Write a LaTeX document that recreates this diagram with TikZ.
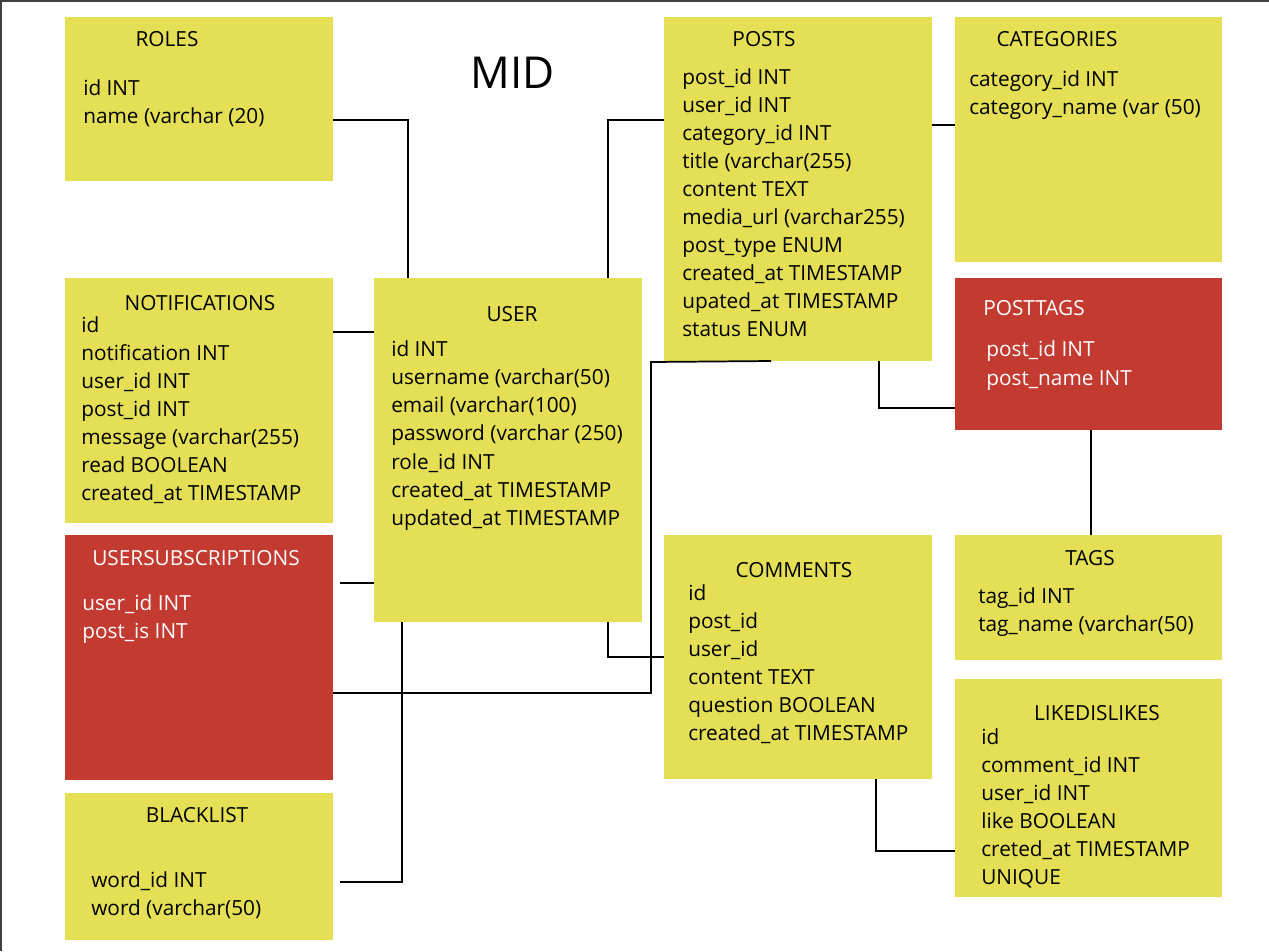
\documentclass[tikz,border=0pt]{standalone}
\usepackage{fontspec}
\setmainfont{Open Sans}
\definecolor{ybox}{HTML}{E4DF55}
\definecolor{rbox}{HTML}{C33A31}
\begin{document}
\begin{tikzpicture}[x=0.75pt,y=-0.75pt,
  tbl/.style={rectangle,inner sep=0pt,outer sep=0pt,anchor=north west,draw=none},
  yel/.style={tbl,fill=ybox},
  red/.style={tbl,fill=rbox},
  ttl/.style={inner sep=0pt,anchor=base,font=\fontsize{15.6}{18}\selectfont,yshift=-5.5pt},
  fld/.style={inner sep=0pt,anchor=base west,font=\fontsize{15.6}{18}\selectfont,yshift=-5.5pt},
  wt/.style={text=white},
  link/.style={draw=black,line width=1.3pt}]
\useasboundingbox (0,0) rectangle (1269,951);
\fill[white] (0,0) rectangle (1269,951);
\draw[line width=1.8pt,draw=black!75] (1,951) -- (1,1) -- (1269,1);
% boxes
\newcommand{\bx}[6]{\node[#6,minimum width={(#4-#2)*0.75pt},minimum height={(#5-#3)*0.75pt}] (#1) at (#2,#3) {};}
\bx{roles}{65}{17}{333}{181}{yel}
\bx{notif}{65}{278}{333}{523}{yel}
\bx{usub}{65}{535}{333}{780}{red}
\bx{black}{65}{793}{333}{940}{yel}
\bx{user}{374}{278}{642}{622}{yel}
\bx{posts}{664}{17}{932}{361}{yel}
\bx{cats}{955}{17}{1222}{262}{yel}
\bx{ptags}{955}{278}{1222}{430}{red}
\bx{tags}{955}{535}{1222}{660}{yel}
\bx{comm}{664}{535}{932}{779}{yel}
\bx{likes}{955}{679}{1222}{897}{yel}
% title
\node[inner sep=0pt,font=\fontsize{33}{38}\selectfont] (mid) at (513,73) {MID};
% ROLES
\node[ttl] (rolesT) at (167,39) {ROLES};
\node[fld] (r1) at (83,88) {id INT};
\node[fld] (r2) at (83,116) {name (varchar (20)};
% POSTS
\node[ttl] (postsT) at (764,39) {POSTS};
\foreach \t [count=\i from 0] in {post\_id INT,user\_id INT,category\_id INT,title (varchar(255),content TEXT,media\_url (varchar255),post\_type ENUM,created\_at TIMESTAMP,upated\_at TIMESTAMP,status ENUM}
  \node[fld] (p\i) at (682,77+28*\i) {\t};
% CATEGORIES
\node[ttl] (catsT) at (1057,39) {CATEGORIES};
\node[fld] (c1) at (969,79) {category\_id INT};
\node[fld] (c2) at (969,107) {category\_name (var (50)};
% NOTIFICATIONS
\node[ttl] (notifT) at (200,303) {NOTIFICATIONS};
\foreach \t [count=\i from 0] in {id,notification INT,user\_id INT,post\_id INT,message (varchar(255),read BOOLEAN,created\_at TIMESTAMP}
  \node[fld] (n\i) at (81,325+28*\i) {\t};
% USER
\node[ttl] (userT) at (512,314) {USER};
\foreach \t [count=\i from 0] in {id INT,username (varchar(50),email (varchar(100),password (varchar (250),role\_id INT,created\_at TIMESTAMP,updated\_at TIMESTAMP}
  \node[fld] (u\i) at (391,349+28.2*\i) {\t};
% POSTTAGS
\node[ttl,wt] (ptagsT) at (1034,308) {POSTTAGS};
\node[fld,wt] (pt1) at (986,349) {post\_id INT};
\node[fld,wt] (pt2) at (986,378) {post\_name INT};
% USERSUBSCRIPTIONS
\node[ttl,wt] (usubT) at (196,558) {USERSUBSCRIPTIONS};
\node[fld,wt] (us1) at (82,603) {user\_id INT};
\node[fld,wt] (us2) at (82,631) {post\_is INT};
% TAGS
\node[ttl] (tagsT) at (1090,558) {TAGS};
\node[fld] (t1) at (978,596) {tag\_id INT};
\node[fld] (t2) at (978,624) {tag\_name (varchar(50)};
% COMMENTS
\node[ttl] (commT) at (794,570) {COMMENTS};
\foreach \t [count=\i from 0] in {id,post\_id,user\_id,content TEXT,question BOOLEAN,created\_at TIMESTAMP}
  \node[fld] (cm\i) at (688,593+28*\i) {\t};
% LIKEDISLIKES
\node[ttl] (likesT) at (1097,713) {LIKEDISLIKES};
\foreach \t [count=\i from 0] in {id,comment\_id INT,user\_id INT,like BOOLEAN,creted\_at TIMESTAMP,UNIQUE}
  \node[fld] (l\i) at (981,737+28*\i) {\t};
% BLACKLIST
\node[ttl] (blackT) at (197,815) {BLACKLIST};
\node[fld] (b1) at (91,880) {word\_id INT};
\node[fld] (b2) at (91,908) {word (varchar(50)};
% connectors
\draw[link] (roles.east |- 0,120) -| (user.north -| 408,0);
\draw[link] (notif.east |- 0,332) -- (user.west |- 0,332);
\draw[link] (user.north -| 608,0) |- (posts.west |- 0,120);
\draw[link] (posts.east |- 0,125) -- (cats.west |- 0,125);
\draw[link] (posts.south -| 879,0) |- (ptags.west |- 0,408);
\draw[link] (ptags.south -| 1091,0) -- (tags.north -| 1091,0);
\draw[link] (340,583) -- (user.west |- 0,583);
\draw[link] (usub.east |- 0,693) -| (651,362) -- (posts.south -| 771,0);
\draw[link] (user.south -| 402,0) |- (340,882);
\draw[link] (user.south -| 608,0) |- (comm.west |- 0,657);
\draw[link] (comm.south -| 876,0) |- (likes.west |- 0,851);
\end{tikzpicture}
\end{document}
